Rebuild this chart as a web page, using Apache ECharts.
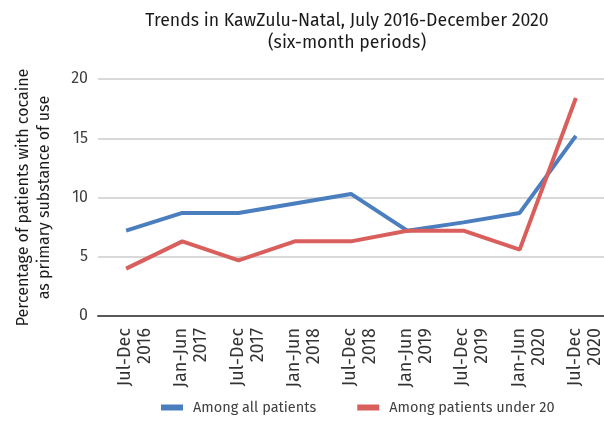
<!DOCTYPE html>
<html>
<head>
<meta charset="utf-8">
<script src="https://cdn.jsdelivr.net/npm/echarts@6/dist/echarts.min.js"></script>
<style>
  html, body { margin: 0; padding: 0; background: #fff; }
  #chart { width: 604px; height: 423px; }
</style>
</head>
<body>
<div id="chart"></div>
<script>
// Six-month reporting periods
const periods = [
  'Jul-Dec\n2016', 'Jan-Jun\n2017', 'Jul-Dec\n2017', 'Jan-Jun\n2018', 'Jul-Dec\n2018',
  'Jan-Jun\n2019', 'Jul-Dec\n2019', 'Jan-Jun\n2020', 'Jul-Dec\n2020'
];
// Share of patients with cocaine as primary substance (%)
const allPatients = [7.2, 8.7, 8.7, 9.5, 10.3, 7.2, 7.9, 8.7, 15.2];
const under20 = [4.0, 6.3, 4.7, 6.3, 6.3, 7.2, 7.2, 5.6, 18.4];
const yTicks = [0, 5, 10, 15, 20];

const font = '"Fira Sans", "Noto Sans", "Open Sans", sans-serif';
const chart = echarts.init(document.getElementById('chart'));
chart.setOption({
  animation: false,
  textStyle: { fontFamily: font },
  title: {
    text: 'Trends in KawZulu-Natal, July 2016-December 2020\n(six-month periods)',
    left: 342, top: 5, textAlign: 'center',
    textStyle: { fontSize: 17.7, fontWeight: 'normal', color: '#1a1a1a', lineHeight: 22, fontFamily: font }
  },
  legend: {
    bottom: 3, left: 156,
    itemWidth: 22, itemHeight: 6, itemGap: 41,
    icon: 'rect',
    textStyle: { fontSize: 14.5, color: '#404040', fontFamily: font, padding: [0, 0, 0, 5] },
    data: ['Among all patients', 'Among patients under 20']
  },
  grid: { left: 98, right: 0, top: 79, bottom: 107 },
  xAxis: {
    type: 'category',
    data: periods,
    boundaryGap: true,
    axisLine: { lineStyle: { color: '#595959', width: 2 } },
    axisTick: { show: false },
    axisLabel: {
      rotate: 90, margin: 12,
      // a short leading spacer line nudges the two-line label off the tick
      formatter: (v) => '{sp| }\n' + v.split('\n').map((s) => '{t|' + s + '}').join('\n'),
      rich: {
        sp: { fontSize: 2, lineHeight: 18 },
        t: { fontSize: 18, lineHeight: 20, color: '#333', fontFamily: font }
      }
    }
  },
  yAxis: {
    type: 'value',
    min: yTicks[0], max: yTicks[yTicks.length - 1], interval: 5,
    name: 'Percentage of patients with cocaine\nas primary substance of use',
    nameLocation: 'middle', nameGap: 43, nameRotate: 90,
    nameTextStyle: { fontSize: 16, color: '#1a1a1a', lineHeight: 21, fontFamily: font },
    axisLine: { show: false },
    axisTick: { show: false },
    axisLabel: { fontSize: 16, color: '#404040', margin: 10, fontFamily: font },
    splitLine: { lineStyle: { color: '#d9d9d9', width: 2 } }
  },
  series: [
    {
      name: 'Among all patients', type: 'line', data: allPatients,
      symbol: 'none', lineStyle: { width: 4, color: '#4a7ebf' }, itemStyle: { color: '#4a7ebf' }
    },
    {
      name: 'Among patients under 20', type: 'line', data: under20,
      symbol: 'none', lineStyle: { width: 4, color: '#d95f5c' }, itemStyle: { color: '#d95f5c' }
    }
  ]
});
</script>
</body>
</html>
